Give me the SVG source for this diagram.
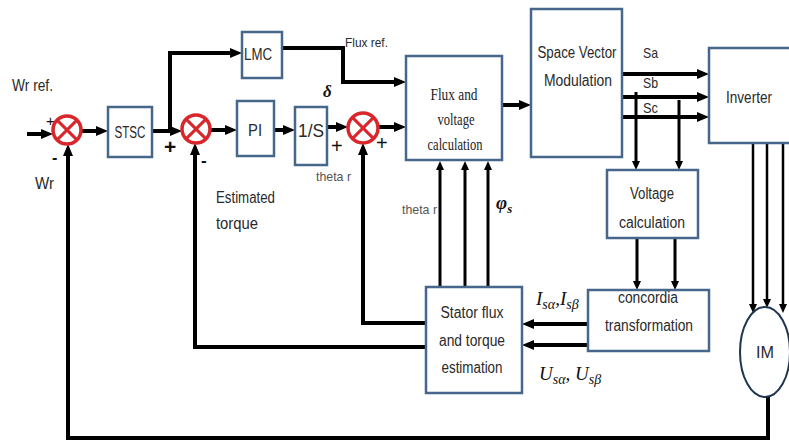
<svg xmlns="http://www.w3.org/2000/svg" width="789" height="441" viewBox="0 0 789 441">
<style>
.box{fill:#fff;stroke:#46678a;stroke-width:2.5}
.sum{fill:#fff;stroke:#d9262a;stroke-width:3.5}
.x{stroke:#d9262a;stroke-width:3}
.w{fill:none;stroke:#000;stroke-width:4}
.m{fill:none;stroke:#000;stroke-width:3}
.n{fill:none;stroke:#000;stroke-width:2.5}
.t{font-family:"Liberation Sans",Arial,sans-serif;font-size:16px;fill:#2a2a2a}
.c{text-anchor:middle}
.sm{font-size:13px;fill:#555}
.sf{font-family:"Liberation Serif","Times New Roman",serif;font-size:17px;fill:#222;text-anchor:middle}
.mi{font-family:"Liberation Serif","Times New Roman",serif;font-style:italic;fill:#111}
.pl{font-family:"Liberation Sans",Arial,sans-serif;fill:#111}
</style>
<defs>
<marker id="a" viewBox="0 0 12 10" markerWidth="12" markerHeight="10" refX="5" refY="5" orient="auto" markerUnits="userSpaceOnUse"><path d="M0,0 L12,5 L0,10 z" fill="#000"/></marker>
<marker id="s" viewBox="0 0 9 8" markerWidth="9" markerHeight="8" refX="3" refY="4" orient="auto" markerUnits="userSpaceOnUse"><path d="M0,0 L9,4 L0,8 z" fill="#000"/></marker>
</defs>
<rect width="789" height="441" fill="#fff"/>

<g id="connectors">
<text class="t" x="643" y="58" style="font-size:15px" textLength="15" lengthAdjust="spacingAndGlyphs">Sa</text>
<text class="t" x="643" y="88" style="font-size:15px" textLength="15" lengthAdjust="spacingAndGlyphs">Sb</text>
<text class="t" x="643" y="113" style="font-size:15px" textLength="15" lengthAdjust="spacingAndGlyphs">Sc</text>
<path class="w" d="M27,134 H46" marker-end="url(#a)"/>
<path class="w" d="M81,131 H101" marker-end="url(#a)"/>
<path class="w" d="M152,131 H175" marker-end="url(#a)"/>
<path class="w" d="M170,131 V53 H235" marker-end="url(#a)"/>
<path class="w" d="M210,130 H230" marker-end="url(#a)"/>
<path class="w" d="M274,130 H288" marker-end="url(#a)"/>
<path class="w" d="M327,127 H341" marker-end="url(#a)"/>
<path class="w" d="M378,127 H399" marker-end="url(#a)"/>
<path class="w" d="M282,48 H343 V82 H399" marker-end="url(#a)"/>
<path class="w" d="M502,105 H524" marker-end="url(#a)"/>
<path class="w" d="M622,74 H702" marker-end="url(#a)"/>
<path class="w" d="M622,97 H702" marker-end="url(#a)"/>
<path class="w" d="M622,117 H702" marker-end="url(#a)"/>
<path class="m" d="M636,92 V164" marker-end="url(#s)"/>
<path class="m" d="M679,100 V164" marker-end="url(#s)"/>
<path class="m" d="M637,238 V284" marker-end="url(#s)"/>
<path class="m" d="M675,238 V284" marker-end="url(#s)"/>
<path class="w" d="M588,324 H529" marker-end="url(#a)"/>
<path class="w" d="M588,345 H529" marker-end="url(#a)"/>
<path class="m" d="M440,287 V167" marker-end="url(#s)"/>
<path class="m" d="M465,287 V167" marker-end="url(#s)"/>
<path class="m" d="M488,287 V167" marker-end="url(#s)"/>
<path class="w" d="M426,323 H363 V150" marker-end="url(#a)"/>
<path class="w" d="M426,347 H195 V150" marker-end="url(#a)"/>
<path class="n" d="M753,143 V307" marker-end="url(#s)"/>
<path class="n" d="M767,143 V302" marker-end="url(#s)"/>
<path class="n" d="M783,143 V307" marker-end="url(#s)"/>
<path class="w" d="M768,397 V438 H68 V151" marker-end="url(#a)"/>

<text class="t" x="12" y="91" textLength="41" lengthAdjust="spacingAndGlyphs">Wr ref.</text>
<text class="t" x="35" y="189" style="font-size:17px" textLength="19" lengthAdjust="spacingAndGlyphs">Wr</text>
<text class="pl" x="46" y="126" style="font-size:15px">+</text>
<text class="pl" x="52" y="163" style="font-size:16px;font-weight:bold">-</text>
<text class="pl" x="164" y="154" style="font-size:21px;font-weight:bold">+</text>
<text class="pl" x="201" y="166" style="font-size:17px;font-weight:bold">-</text>
<text class="pl" x="331" y="153" style="font-size:20px">+</text>
<text class="pl" x="376" y="150" style="font-size:20px">+</text>
<text class="t" x="345" y="47" style="font-size:13px" textLength="43" lengthAdjust="spacingAndGlyphs">Flux ref.</text>
<text class="mi" x="323" y="97" style="font-size:17px;font-weight:bold">δ</text>
<text class="t sm" x="316" y="181" textLength="35" lengthAdjust="spacingAndGlyphs">theta r</text>
<text class="t" x="216" y="203" textLength="59" lengthAdjust="spacingAndGlyphs">Estimated</text>
<text class="t" x="216" y="229" textLength="42" lengthAdjust="spacingAndGlyphs">torque</text>
<text class="t sm" x="402" y="214" textLength="35" lengthAdjust="spacingAndGlyphs">theta r</text>
<text class="mi" x="496" y="209" style="font-size:19px;font-weight:bold">φ<tspan dy="4" style="font-size:13px">s</tspan></text>
<text class="mi" x="536" y="305" style="font-size:19px">I<tspan dy="4" style="font-size:14px">sα</tspan><tspan dy="-4">,I</tspan><tspan dy="4" style="font-size:14px">sβ</tspan></text>
<text class="mi" x="539" y="380" style="font-size:19px">U<tspan dy="4" style="font-size:14px">sα</tspan><tspan dy="-4">, U</tspan><tspan dy="4" style="font-size:14px">sβ</tspan></text>
</g>

<g id="sum1"><circle class="sum" cx="67" cy="130" r="14"/><path class="x" d="M57.1,120.1 L76.9,139.9 M76.9,120.1 L57.1,139.9"/></g>
<g id="sum2"><circle class="sum" cx="196" cy="129" r="14"/><path class="x" d="M186.1,119.1 L205.9,138.9 M205.9,119.1 L186.1,138.9"/></g>
<g id="sum3"><circle class="sum" cx="363" cy="128" r="15"/><path class="x" d="M352.4,117.4 L373.6,138.6 M373.6,117.4 L352.4,138.6"/></g>

<g id="stsc"><rect class="box" x="108" y="107" width="44" height="50"/><text class="t c" x="130" y="138" textLength="31" lengthAdjust="spacingAndGlyphs">STSC</text></g>
<g id="lmc"><rect class="box" x="242" y="32" width="40" height="46"/><text class="t c" x="258" y="60" textLength="28" lengthAdjust="spacingAndGlyphs">LMC</text></g>
<g id="pi"><rect class="box" x="237" y="101" width="37" height="55"/><text class="t c" x="255" y="136" textLength="14" lengthAdjust="spacingAndGlyphs">PI</text></g>
<g id="integrator"><rect class="box" x="295" y="107" width="32" height="58"/><text class="t c" x="311" y="137" style="font-size:18px" textLength="26" lengthAdjust="spacingAndGlyphs">1/S</text></g>
<g id="flux"><rect class="box" x="406" y="56" width="96" height="104"/>
<text class="sf" x="454" y="100" textLength="47" lengthAdjust="spacingAndGlyphs">Flux and</text>
<text class="sf" x="456" y="125" textLength="37" lengthAdjust="spacingAndGlyphs">voltage</text>
<text class="sf" x="455" y="150" textLength="55" lengthAdjust="spacingAndGlyphs">calculation</text></g>
<g id="svm"><rect class="box" x="531" y="9" width="91" height="148"/>
<text class="t c" x="577" y="58" textLength="79" lengthAdjust="spacingAndGlyphs">Space Vector</text>
<text class="t c" x="578" y="86" textLength="68" lengthAdjust="spacingAndGlyphs">Modulation</text></g>
<g id="inverter"><rect class="box" x="709" y="48" width="84" height="95"/><text class="t c" x="749" y="103" textLength="46" lengthAdjust="spacingAndGlyphs">Inverter</text></g>
<g id="voltage"><rect class="box" x="607" y="170" width="91" height="68"/>
<text class="t c" x="652" y="199" textLength="44" lengthAdjust="spacingAndGlyphs">Voltage</text>
<text class="t c" x="652" y="228" textLength="66" lengthAdjust="spacingAndGlyphs">calculation</text></g>
<g id="concordia"><rect class="box" x="588" y="290" width="121" height="61"/>
<text class="t c" x="648" y="303" textLength="60" lengthAdjust="spacingAndGlyphs">concordia</text>
<text class="t c" x="649" y="331" textLength="88" lengthAdjust="spacingAndGlyphs">transformation</text></g>
<g id="stator"><rect class="box" x="426" y="287" width="96" height="106"/>
<text class="t c" x="472" y="318" textLength="63" lengthAdjust="spacingAndGlyphs">Stator flux</text>
<text class="t c" x="472" y="346" textLength="66" lengthAdjust="spacingAndGlyphs">and torque</text>
<text class="t c" x="472" y="373" textLength="61" lengthAdjust="spacingAndGlyphs">estimation</text></g>
<g id="im"><ellipse cx="765" cy="352" rx="25" ry="45" fill="#fff" stroke="#1e3650" stroke-width="2"/><text class="t c" x="765" y="358" textLength="18" lengthAdjust="spacingAndGlyphs">IM</text></g>
</svg>
